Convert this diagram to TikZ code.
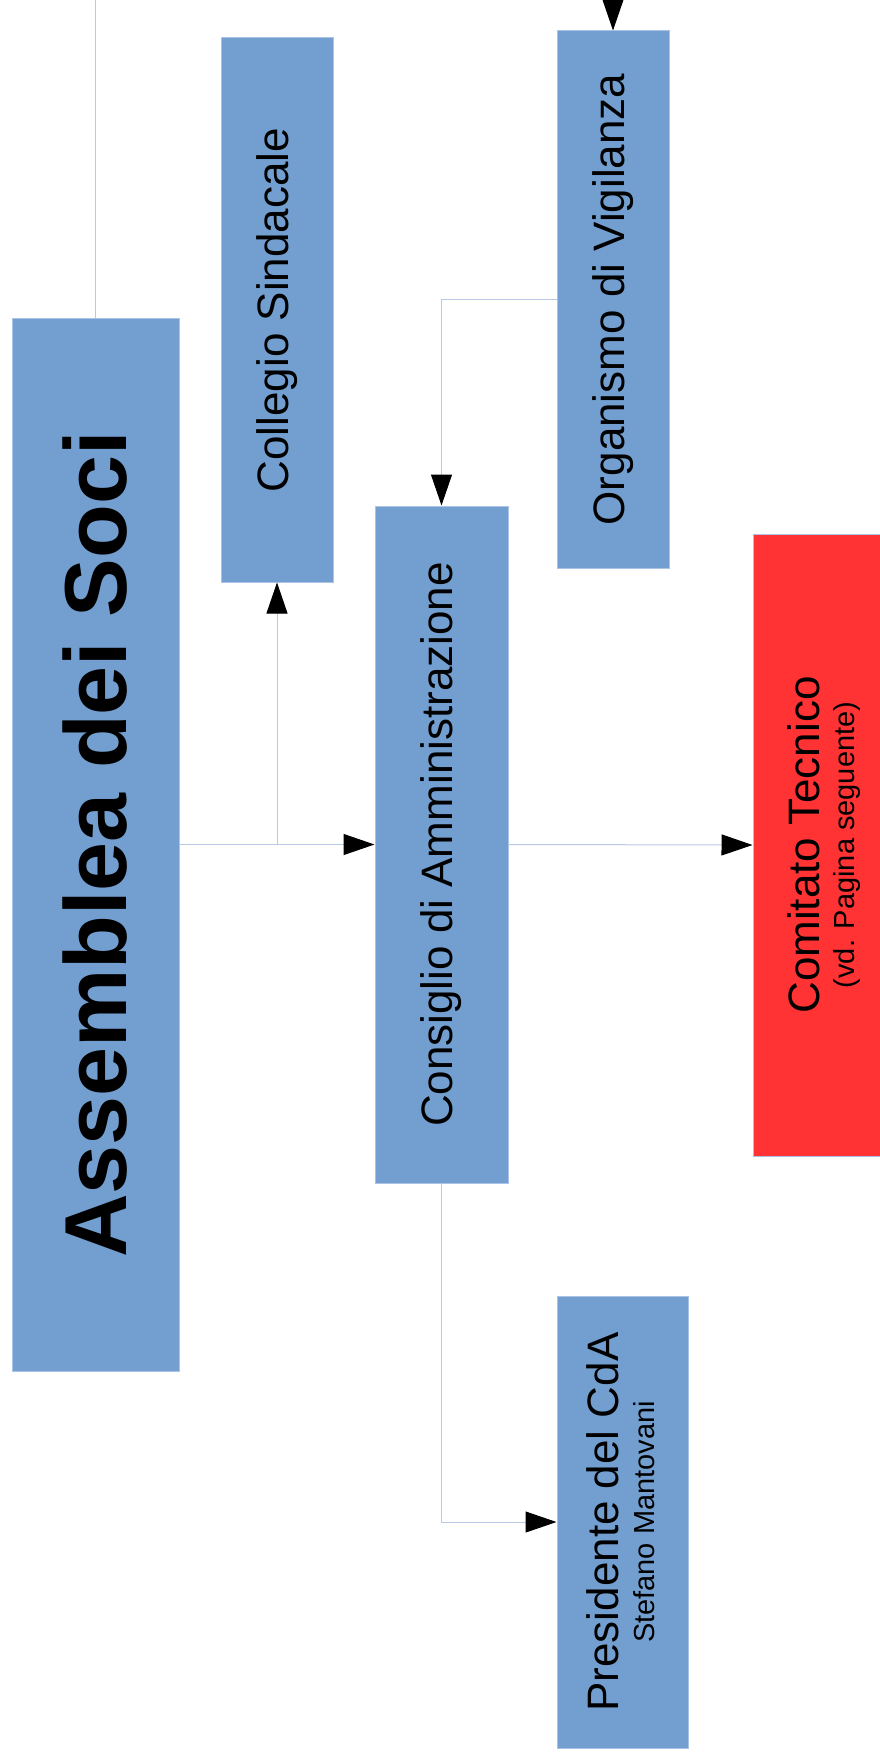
\documentclass[tikz,border=0pt]{standalone}
\usepackage{fontspec}
\setmainfont{Liberation Sans}
\usetikzlibrary{arrows.meta}

\definecolor{boxblue}{RGB}{114,159,207}
\definecolor{boxred}{RGB}{255,51,51}
\definecolor{edgeblue}{RGB}{170,195,230}
\definecolor{linkblue}{RGB}{185,200,228}

\newcommand{\uptext}[1]{\rotatebox{90}{#1}}
\newcommand{\uptwo}[2]{\rotatebox{90}{\fontsize{10}{12}\selectfont\begin{tabular}{@{}c@{}}%
  \fontsize{44}{53}\selectfont #1\\[11pt]\fontsize{29}{36}\selectfont #2\end{tabular}}}

\begin{document}
\begin{tikzpicture}[x=1pt,y=-1pt,
    box/.style={
      draw=edgeblue,
      line width=1pt,
      fill=boxblue,
      inner sep=0pt,
      font=\fontsize{44}{53}\selectfont},
    link/.style={
      draw=linkblue,
      line width=1pt},
    arr/.style={
      link,
      -{Triangle[length=31pt,width=21pt,color=black]}}]
    \path[use as bounding box, clip] (0,0) rectangle (880,1763);

    \node[box, minimum width=167pt, minimum height=1053pt] (AS) at (95.5,844.5)
      {\uptext{\fontsize{88}{100}\selectfont\bfseries Assemblea dei Soci}};
    \node[box, minimum width=112pt, minimum height=544pt]  (CS) at (277,310)
      {\uptext{Collegio Sindacale}};
    \node[box, minimum width=112pt, minimum height=537pt]  (OV) at (613,299.5)
      {\uptext{Organismo di Vigilanza}};
    \node[box, minimum width=133pt, minimum height=677pt]  (CdA) at (441.5,844.5)
      {\uptext{Consiglio di Amministrazione}};
    \node[box, fill=boxred, minimum width=142pt, minimum height=622pt] (CT) at (824,845)
      {\uptwo{Comitato Tecnico}{(vd. Pagina seguente)}};
    \node[box, minimum width=131pt, minimum height=452pt]  (PR) at (622.5,1522)
      {\uptwo{Presidente del CdA}{Stefano Mantovani}};

    \coordinate (T1) at (95.5,-2);
    \coordinate (T2) at (613,-2);

    \draw [link] (AS.north) -- (T1);
    \draw [arr]  (T2) -- (OV.north);
    \draw [arr]  (AS.east) -- (CdA.west);
    \draw [arr]  (CS.south |- AS.east) -- (CS.south);
    \draw [arr]  (CdA.east) -- (CT.west);
    \draw [arr]  (OV.west) -| (CdA.north);
    \draw [arr]  (CdA.south) |- (PR.west);
  \end{tikzpicture}
\end{document}
